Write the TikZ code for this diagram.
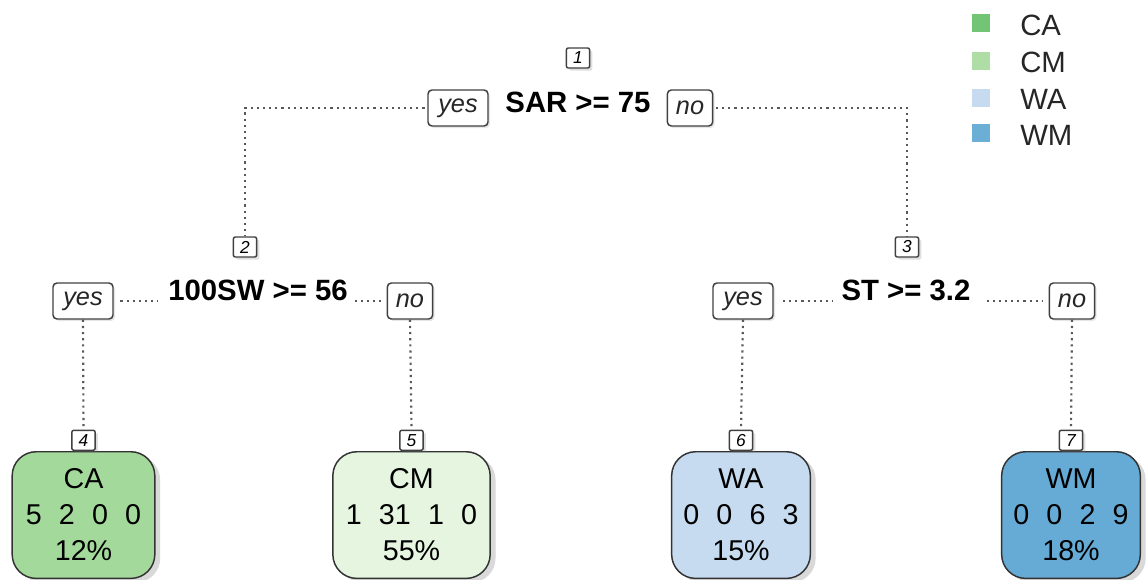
\documentclass[tikz,border=0pt]{standalone}
\usepackage{fontspec}
\setmainfont{Liberation Sans}
\usetikzlibrary{shadows}
\definecolor{legCA}{HTML}{74C476}
\definecolor{legCM}{HTML}{AEDDA6}
\definecolor{legWA}{HTML}{C6DBEF}
\definecolor{legWM}{HTML}{6BAED6}
\definecolor{leafCA}{HTML}{A3D99A}
\definecolor{leafCM}{HTML}{E5F5E0}
\definecolor{leafWA}{HTML}{C6DBEF}
\definecolor{leafWM}{HTML}{66ABD5}
\newcommand{\lgap}{\hspace{0.6em}}
\begin{document}
\begin{tikzpicture}[x=0.75pt,y=-0.75pt,
  numbox/.style={draw=black!75, line width=1.1pt, rounded corners=1.5pt, fill=white,
    minimum width=17.5pt, minimum height=15pt, inner sep=0pt,
    font=\fontsize{13}{13}\selectfont\itshape,
    drop shadow={shadow xshift=2pt, shadow yshift=-2pt, opacity=0.25}},
  yn/.style={draw=black!75, line width=1.1pt, rounded corners=3pt, fill=white,
    minimum height=27pt, inner sep=0pt, text=black!85,
    font=\fontsize{19}{19}\selectfont\itshape,
    drop shadow={shadow xshift=1.5pt, shadow yshift=-1.5pt, opacity=0.2}},
  yesbox/.style={yn, minimum width=45pt},
  nobox/.style={yn, minimum width=34pt},
  cond/.style={anchor=base, inner sep=0pt, font=\fontsize{22}{22}\selectfont\bfseries},
  leaf/.style={draw=black!80, line width=1.1pt, rounded corners=18pt, anchor=north,
    minimum height=95pt, inner sep=0pt, align=center,
    font=\fontsize{21.5}{27}\selectfont,
    drop shadow={shadow xshift=4pt, shadow yshift=-3pt, opacity=0.3}},
  dotline/.style={draw=black!65, line width=1.6pt, dash pattern=on 1.6pt off 3pt},
  legsq/.style={minimum width=13.5pt, minimum height=13pt, inner sep=0pt},
  legtxt/.style={anchor=base west, inner sep=0pt, font=\fontsize{22}{22}\selectfont, text=black!85}
]
\useasboundingbox (0,0) rectangle (1147,579);

% root
\node[numbox] (n1) at (578,58) {1};
\node[cond] (c1) at (578,112) {SAR >= 75};
\node[yesbox] (y1) at (458,108) {yes};
\node[nobox] (no1) at (690,108) {no};

% level 2
\node[numbox] (n2) at (245,247) {2};
\node[cond] (c2) at (258,300) {100SW >= 56};
\node[yesbox] (y2) at (83,301) {yes};
\node[nobox] (no2) at (410,301) {no};

\node[numbox] (n3) at (907,247) {3};
\node[cond] (c3) at (906,300) {ST >= 3.2};
\node[yesbox] (y3) at (743,301) {yes};
\node[nobox] (no3) at (1072,301) {no};

% leaves
\node[leaf, fill=leafCA, minimum width=107pt] (l4) at (83.5,451) {CA\\5\lgap2\lgap0\lgap0\\12\%};
\node[leaf, fill=leafCM, minimum width=118pt] (l5) at (411.5,451) {CM\\1\lgap31\lgap1\lgap0\\55\%};
\node[leaf, fill=leafWA, minimum width=104pt] (l6) at (741,451) {WA\\0\lgap0\lgap6\lgap3\\15\%};
\node[leaf, fill=leafWM, minimum width=104pt] (l7) at (1071,451) {WM\\0\lgap0\lgap2\lgap9\\18\%};

\node[numbox, anchor=south] (n4) at (l4.north) {4};
\node[numbox, anchor=south] (n5) at (l5.north) {5};
\node[numbox, anchor=south] (n6) at (l6.north) {6};
\node[numbox, anchor=south] (n7) at (l7.north) {7};

% connectors
\draw[dotline, shorten <=2pt] (y1.west) -| (n2.north);
\draw[dotline, shorten <=2pt] (no1.east) -| (n3.north);

\draw[dotline, shorten <=5pt, shorten >=8pt] (y2.east) -- (y2.east -| c2.west);
\draw[dotline, shorten <=5pt, shorten >=4pt] (c2.east |- no2.west) -- (no2.west);
\draw[dotline, shorten <=7pt, shorten >=6pt] (y3.east) -- (y3.east -| c3.west);
\draw[dotline, shorten <=12pt, shorten >=5pt] (c3.east |- no3.west) -- (no3.west);

\draw[dotline] (y2.south) -- (n4.north);
\draw[dotline] (no2.south) -- (n5.north);
\draw[dotline] (y3.south) -- (n6.north);
\draw[dotline] (no3.south) -- (n7.north);

% legend
\node[legsq, fill=legCA] (sCA) at (981,23) {};
\node[legsq, fill=legCM] (sCM) at (981,61) {};
\node[legsq, fill=legWA] (sWA) at (981,98) {};
\node[legsq, fill=legWM] (sWM) at (981,133) {};
\node[legtxt] (tCA) at (1020,35) {CA};
\node[legtxt] (tCM) at (1020,72) {CM};
\node[legtxt] (tWA) at (1020,109) {WA};
\node[legtxt] (tWM) at (1020,145) {WM};
\end{tikzpicture}
\end{document}
